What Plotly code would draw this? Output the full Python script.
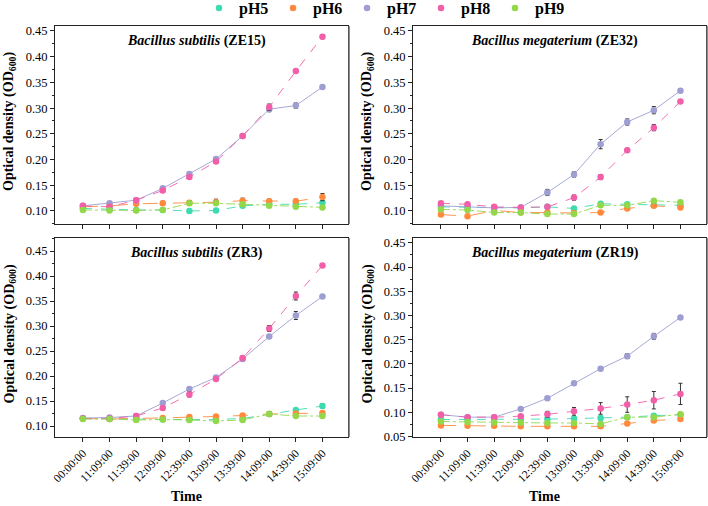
import plotly.graph_objects as go

times = ["00:00:00", "11:09:00", "11:39:00", "12:09:00", "12:39:00",
         "13:09:00", "13:39:00", "14:09:00", "14:39:00", "15:09:00"]
series_names = ["pH5", "pH6", "pH7", "pH8", "pH9"]
series_colors = ["#3ddcb0", "#ff8a3d", "#9e9ed2", "#f25fa8", "#92d84a"]
panel_titles = ["<i>Bacillus subtilis</i> (ZE15)", "<i>Bacillus megaterium</i> (ZE32)",
                "<i>Bacillus subtilis</i> (ZR3)", "<i>Bacillus megaterium</i> (ZR19)"]

# ZE15
ze15_ph5 = [0.105, 0.103, 0.102, 0.102, 0.100, 0.101, 0.110, 0.113, 0.113, 0.116]
ze15_ph6 = [0.108, 0.110, 0.114, 0.115, 0.116, 0.117, 0.120, 0.119, 0.119, 0.127]
ze15_ph7 = [0.110, 0.115, 0.121, 0.144, 0.172, 0.201, 0.246, 0.298, 0.305, 0.341]
ze15_ph8 = [0.110, 0.108, 0.121, 0.140, 0.166, 0.196, 0.246, 0.302, 0.372, 0.439]
ze15_ph9 = [0.102, 0.101, 0.101, 0.102, 0.115, 0.115, 0.113, 0.110, 0.108, 0.107]
ze15_e5 = [0.002, 0.002, 0.002, 0.002, 0.002, 0.002, 0.003, 0.003, 0.003, 0.004]
ze15_e6 = [0.003, 0.003, 0.003, 0.004, 0.004, 0.006, 0.005, 0.004, 0.004, 0.007]
ze15_e7 = [0.003, 0.003, 0.003, 0.003, 0.003, 0.003, 0.003, 0.005, 0.005, 0.003]
ze15_e8 = [0.003, 0.003, 0.003, 0.003, 0.003, 0.003, 0.003, 0.006, 0.002, 0.004]
ze15_e9 = [0.002, 0.002, 0.002, 0.002, 0.004, 0.004, 0.003, 0.003, 0.003, 0.003]

# ZE32
ze32_ph5 = [0.108, 0.107, 0.107, 0.106, 0.108, 0.105, 0.114, 0.113, 0.111, 0.111]
ze32_ph6 = [0.093, 0.090, 0.101, 0.097, 0.097, 0.096, 0.097, 0.105, 0.110, 0.107]
ze32_ph7 = [0.110, 0.108, 0.106, 0.107, 0.136, 0.171, 0.230, 0.273, 0.296, 0.334]
ze32_ph8 = [0.115, 0.113, 0.108, 0.107, 0.108, 0.126, 0.166, 0.218, 0.262, 0.313]
ze32_ph9 = [0.103, 0.102, 0.097, 0.097, 0.094, 0.094, 0.111, 0.111, 0.120, 0.117]
ze32_e5 = [0.003, 0.003, 0.002, 0.002, 0.002, 0.002, 0.003, 0.003, 0.003, 0.003]
ze32_e6 = [0.003, 0.003, 0.003, 0.003, 0.003, 0.003, 0.003, 0.003, 0.003, 0.003]
ze32_e7 = [0.003, 0.003, 0.003, 0.003, 0.006, 0.005, 0.009, 0.006, 0.007, 0.003]
ze32_e8 = [0.003, 0.003, 0.003, 0.003, 0.003, 0.005, 0.005, 0.004, 0.006, 0.003]
ze32_e9 = [0.003, 0.003, 0.003, 0.003, 0.003, 0.003, 0.003, 0.003, 0.004, 0.003]

# ZR3
zr3_ph5 = [0.115, 0.114, 0.114, 0.113, 0.113, 0.113, 0.115, 0.124, 0.132, 0.140]
zr3_ph6 = [0.115, 0.114, 0.115, 0.116, 0.118, 0.119, 0.121, 0.124, 0.125, 0.126]
zr3_ph7 = [0.116, 0.117, 0.120, 0.146, 0.174, 0.197, 0.234, 0.279, 0.321, 0.359]
zr3_ph8 = [0.115, 0.115, 0.120, 0.136, 0.163, 0.194, 0.236, 0.295, 0.360, 0.421]
zr3_ph9 = [0.114, 0.114, 0.112, 0.113, 0.112, 0.110, 0.112, 0.124, 0.120, 0.120]
zr3_e5 = [0.003, 0.003, 0.002, 0.002, 0.002, 0.002, 0.002, 0.003, 0.003, 0.004]
zr3_e6 = [0.003, 0.003, 0.003, 0.003, 0.003, 0.003, 0.003, 0.003, 0.003, 0.003]
zr3_e7 = [0.003, 0.003, 0.003, 0.003, 0.003, 0.003, 0.004, 0.003, 0.008, 0.004]
zr3_e8 = [0.003, 0.003, 0.003, 0.004, 0.005, 0.003, 0.004, 0.006, 0.008, 0.003]
zr3_e9 = [0.003, 0.003, 0.002, 0.003, 0.003, 0.003, 0.003, 0.004, 0.003, 0.003]

# ZR19
zr19_ph5 = [0.085, 0.085, 0.085, 0.085, 0.086, 0.087, 0.088, 0.090, 0.093, 0.095]
zr19_ph6 = [0.073, 0.072, 0.072, 0.071, 0.071, 0.071, 0.071, 0.077, 0.083, 0.086]
zr19_ph7 = [0.095, 0.090, 0.090, 0.107, 0.129, 0.160, 0.190, 0.216, 0.257, 0.296]
zr19_ph8 = [0.095, 0.090, 0.090, 0.092, 0.096, 0.102, 0.108, 0.116, 0.125, 0.138]
zr19_ph9 = [0.081, 0.080, 0.079, 0.079, 0.078, 0.078, 0.076, 0.090, 0.090, 0.096]
zr19_e5 = [0.003, 0.003, 0.003, 0.003, 0.003, 0.003, 0.004, 0.003, 0.003, 0.003]
zr19_e6 = [0.003, 0.003, 0.003, 0.003, 0.003, 0.003, 0.003, 0.003, 0.003, 0.003]
zr19_e7 = [0.003, 0.003, 0.003, 0.003, 0.003, 0.003, 0.003, 0.005, 0.006, 0.003]
zr19_e8 = [0.003, 0.003, 0.003, 0.003, 0.006, 0.008, 0.012, 0.016, 0.018, 0.022]
zr19_e9 = [0.003, 0.003, 0.003, 0.003, 0.003, 0.003, 0.004, 0.003, 0.003, 0.003]

panels = [
    ([ze15_ph5, ze15_ph6, ze15_ph7, ze15_ph8, ze15_ph9], [ze15_e5, ze15_e6, ze15_e7, ze15_e8, ze15_e9]),
    ([ze32_ph5, ze32_ph6, ze32_ph7, ze32_ph8, ze32_ph9], [ze32_e5, ze32_e6, ze32_e7, ze32_e8, ze32_e9]),
    ([zr3_ph5, zr3_ph6, zr3_ph7, zr3_ph8, zr3_ph9], [zr3_e5, zr3_e6, zr3_e7, zr3_e8, zr3_e9]),
    ([zr19_ph5, zr19_ph6, zr19_ph7, zr19_ph8, zr19_ph9], [zr19_e5, zr19_e6, zr19_e7, zr19_e8, zr19_e9]),
]

W, H = 708, 506
FONT = "Liberation Serif"
dashes = ["dash", "longdash", "solid", "dash", "dashdot"]

# pixel boxes of panels: (left, right, top, bottom)
boxes = [(55, 348, 26, 224), (413, 706, 26, 224), (55, 348, 238, 437), (413, 706, 238, 437)]
yranges = [[0.0747, 0.4597], [0.0747, 0.4597], [0.078, 0.476], [0.049, 0.46]]
yticks = [[0.10, 0.15, 0.20, 0.25, 0.30, 0.35, 0.40, 0.45]] * 3 + [[0.05, 0.10, 0.15, 0.20, 0.25, 0.30, 0.35, 0.40, 0.45]]

fig = go.Figure()
for p, (vals, errs) in enumerate(panels):
    ax = "" if p == 0 else str(p + 1)
    for s in range(5):
        # connecting line (no legend entry)
        fig.add_trace(go.Scatter(
            x=times, y=vals[s], name=series_names[s], legendgroup=series_names[s],
            showlegend=False, mode="lines", hoverinfo="skip",
            line=dict(color=series_colors[s], width=0.9, dash=dashes[s]),
            xaxis="x" + ax, yaxis="y" + ax,
        ))
    for s in range(5):
        # markers with error bars
        fig.add_trace(go.Scatter(
            x=times, y=vals[s], name=series_names[s], legendgroup=series_names[s],
            showlegend=(p == 0), mode="markers",
            marker=dict(color=series_colors[s], size=6.5, symbol="circle"),
            error_y=dict(type="data", array=errs[s], color="#333333", thickness=1, width=2),
            xaxis="x" + ax, yaxis="y" + ax,
        ))

layout = dict(
    width=W, height=H, margin=dict(l=0, r=0, t=0, b=0, autoexpand=False),
    paper_bgcolor="white", plot_bgcolor="white",
    font=dict(family=FONT, color="black", size=12),
    legend=dict(orientation="h", xref="container", yref="container",
                x=199 / W, y=1 - 8 / H, xanchor="left", yanchor="middle",
                font=dict(family=FONT, size=16, color="black", weight="bold"),
                entrywidth=29, entrywidthmode="pixels", itemwidth=30,
                bgcolor="rgba(0,0,0,0)", tracegroupgap=0),
    annotations=[], shapes=[],
)
for p in range(4):
    l, r, t, b = boxes[p]
    ax = "" if p == 0 else str(p + 1)
    xa = dict(domain=[l / W, r / W], anchor="y" + ax, type="category", range=[-1.05, 9.96],
              showline=True, linecolor="#222222", linewidth=1, mirror=True,
              ticks="outside", ticklen=4, tickcolor="#222222", showgrid=False, zeroline=False,
              tickangle=-45, tickfont=dict(family=FONT, size=11.5),
              showticklabels=(p >= 2))
    ya = dict(domain=[1 - b / H, 1 - t / H], anchor="x" + ax, range=yranges[p],
              tickvals=yticks[p], ticktext=["%.2f" % v for v in yticks[p]],
              showline=True, linecolor="#222222", linewidth=1, mirror=True,
              ticks="outside", ticklen=4, tickcolor="#222222", showgrid=False, zeroline=False,
              tickfont=dict(family=FONT, size=12.5),
              minor=dict(ticks="outside", ticklen=2, tickcolor="#222222", dtick=0.025, tick0=0.025))
    layout["xaxis" + ax] = xa
    layout["yaxis" + ax] = ya
    # panel title
    layout["annotations"].append(dict(
        text="<b>" + panel_titles[p] + "</b>", xref="paper", yref="paper",
        x=((l + r) / 2 - 5) / W, y=1 - (t + 15) / H, showarrow=False,
        font=dict(family=FONT, size=14, color="black"), xanchor="center", yanchor="middle"))
    # y title
    layout["annotations"].append(dict(
        text="<b>Optical density (OD<sub>600</sub>)</b>", xref="paper", yref="paper",
        x=(l - 45) / W, y=1 - ((t + b) / 2 - 3) / H, showarrow=False, textangle=-90,
        font=dict(family=FONT, size=14, color="black"), xanchor="center", yanchor="middle"))
    # right-edge shadow
    layout["shapes"].append(dict(type="line", xref="paper", yref="paper",
                                 x0=(r + 1) / W, x1=(r + 1) / W, y0=1 - b / H, y1=1 - t / H,
                                 line=dict(color="#666666", width=1.5)))
for l, r in [(55, 348), (413, 706)]:
    layout["annotations"].append(dict(
        text="<b>Time</b>", xref="paper", yref="paper", x=((l + r) / 2 - 15) / W, y=1 - 496 / H,
        showarrow=False, font=dict(family=FONT, size=14, color="black"),
        xanchor="center", yanchor="middle"))

fig.update_layout(**layout)
fig.write_html("out.html", config={"displayModeBar": False},
               post_script="document.body.style.margin='0';document.body.style.padding='0';")
